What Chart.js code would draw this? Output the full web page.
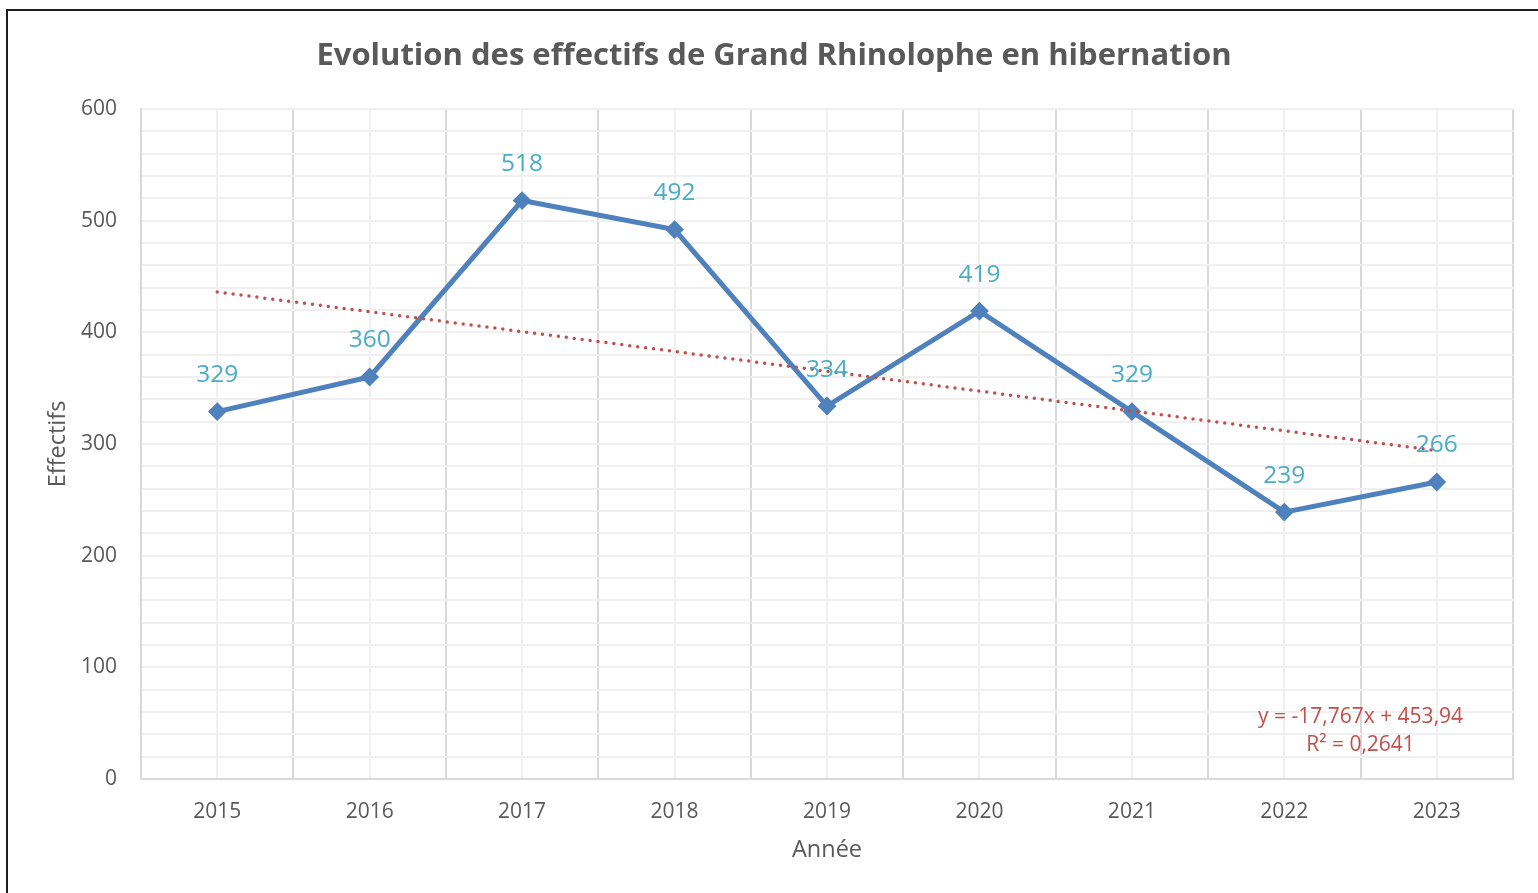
<!DOCTYPE html>
<html lang="fr">
<head>
<meta charset="utf-8">
<title>Grand Rhinolophe</title>
<script src="https://cdn.jsdelivr.net/npm/chart.js@4/dist/chart.umd.min.js"></script>
<style>
  html, body { margin: 0; padding: 0; background: #fff; }
  #wrap { position: relative; width: 1538px; height: 893px; }
</style>
</head>
<body>
<div id="wrap"><canvas id="chart"></canvas></div>
<script>
// Effectifs comptés en hibernation, par année
const annees = ['2015', '2016', '2017', '2018', '2019', '2020', '2021', '2022', '2023'];
const effectifs = [329, 360, 518, 492, 334, 419, 329, 239, 266];

// Courbe de tendance linéaire (x = rang de l'année, 1..9)
const TREND_SLOPE = -17.767;
const TREND_INTERCEPT = 453.94;
const trendLabel = ['y = -17,767x + 453,94', 'R² = 0,2641'];

const yTicks = [0, 100, 200, 300, 400, 500, 600];

const FONT = '"Open Sans", Lato, sans-serif';
const GREY_TEXT = '#595959';
const GRID_MAJOR = '#d9d9d9';
const GRID_MINOR = '#f0f0f0';

// tendance : seulement les deux extrémités, reliées par spanGaps
const tendance = annees.map((_, i) =>
  (i === 0 || i === annees.length - 1) ? TREND_SLOPE * (i + 1) + TREND_INTERCEPT : null);

// fond blanc + cadre (bords gauche et haut) + titre
const framePlugin = {
  id: 'frame',
  beforeDraw(chart) {
    const { ctx, width, height } = chart;
    ctx.save();
    ctx.fillStyle = '#fff';
    ctx.fillRect(0, 0, width, height);
    ctx.strokeStyle = '#1e1e1e';
    ctx.lineWidth = 2;
    ctx.beginPath();
    ctx.moveTo(7, height);
    ctx.lineTo(7, 10);
    ctx.lineTo(width, 10);
    ctx.stroke();
    ctx.restore();
  },
  afterDraw(chart) {
    const { ctx } = chart;
    ctx.save();
    ctx.fillStyle = GREY_TEXT;
    ctx.font = 'bold 31px ' + FONT;
    ctx.textAlign = 'center';
    ctx.textBaseline = 'middle';
    ctx.fillText('Evolution des effectifs de Grand Rhinolophe en hibernation', 774, 56);
    ctx.restore();
  }
};

// étiquettes de valeurs au-dessus des points
const valueLabels = {
  id: 'valueLabels',
  afterDatasetsDraw(chart) {
    const { ctx } = chart;
    const meta = chart.getDatasetMeta(0);
    ctx.save();
    ctx.fillStyle = '#4bacc6';
    ctx.font = '24.5px ' + FONT;
    ctx.textAlign = 'center';
    ctx.textBaseline = 'middle';
    meta.data.forEach((pt, i) => {
      ctx.fillText(String(effectifs[i]), pt.x, pt.y - 36.5);
    });

    // équation de la tendance
    const xs = chart.scales.x, ys = chart.scales.y;
    const cx = xs.getPixelForValue(7.5);
    ctx.fillStyle = '#c0504d';
    ctx.font = '21px ' + FONT;
    ctx.fillText(trendLabel[0], cx, ys.getPixelForValue(55.5));
    ctx.fillText(trendLabel[1], cx, ys.getPixelForValue(30.5));
    ctx.restore();
  }
};

new Chart(document.getElementById('chart'), {
  type: 'line',
  data: {
    labels: annees,
    datasets: [
      {
        label: 'Effectifs',
        data: effectifs,
        borderColor: '#4f81bd',
        backgroundColor: '#4f81bd',
        borderWidth: 5,
        pointStyle: 'rectRot',
        pointRadius: 8,
        pointBorderWidth: 2,
        tension: 0
      },
      {
        label: 'Linéaire (Effectifs)',
        data: tendance,
        spanGaps: true,
        borderColor: '#c0504d',
        borderWidth: 3.5,
        borderDash: [0, 8],
        borderCapStyle: 'round',
        pointRadius: 0,
        order: -1
      }
    ]
  },
  options: {
    responsive: true,
    maintainAspectRatio: false,
    animation: false,
    events: [],
    layout: { padding: { left: 0, right: 25, top: 109, bottom: 0 } },
    plugins: {
      legend: { display: false },
      title: { display: false },
      tooltip: { enabled: false }
    },
    scales: {
      x: {
        type: 'category',
        offset: true,
        grid: { offset: true, color: GRID_MAJOR, lineWidth: 2, drawTicks: false },
        border: { color: GRID_MAJOR, width: 2 },
        ticks: { color: GREY_TEXT, font: { family: FONT, size: 21 }, padding: 20 },
        title: {
          display: true, text: 'Année', color: GREY_TEXT,
          font: { family: FONT, size: 23.5 }, padding: { top: 0, bottom: 29 }
        },
        afterFit(scale) { scale.height = 114; }
      },
      xMinor: {
        type: 'category',
        position: 'bottom',
        offset: true,
        grid: { offset: false, color: GRID_MINOR, lineWidth: 2, drawTicks: false, z: -1 },
        border: { display: false },
        ticks: { display: false },
        afterFit(scale) { scale.height = 0; }
      },
      y: {
        min: 0,
        max: 600,
        afterBuildTicks(scale) { scale.ticks = yTicks.map(v => ({ value: v })); },
        grid: { color: GRID_MAJOR, lineWidth: 2, drawTicks: false },
        border: { color: GRID_MAJOR, width: 2 },
        ticks: { color: GREY_TEXT, font: { family: FONT, size: 21 }, padding: 24 },
        title: {
          display: true, text: 'Effectifs', color: GREY_TEXT,
          font: { family: FONT, size: 23.5 }, padding: { top: 44, bottom: 0 }
        },
        afterFit(scale) { scale.width = 141; }
      },
      yMinor: {
        position: 'left',
        min: 0,
        max: 600,
        ticks: { display: false, stepSize: 20 },
        grid: { color: GRID_MINOR, lineWidth: 2, drawTicks: false, z: -1 },
        border: { display: false },
        afterFit(scale) { scale.width = 0; }
      }
    }
  },
  plugins: [framePlugin, valueLabels]
});
</script>
</body>
</html>
